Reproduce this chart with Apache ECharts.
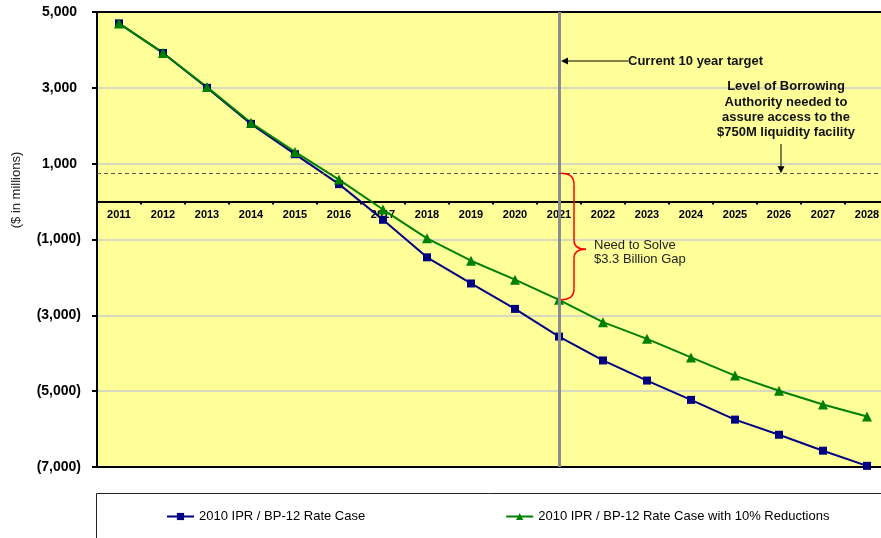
<!DOCTYPE html>
<html>
<head>
<meta charset="utf-8">
<script src="https://cdn.jsdelivr.net/npm/echarts@6/dist/echarts.min.js"></script>
<style>
  html, body { margin: 0; padding: 0; background: #fff; }
  #chart { width: 881px; height: 538px; }
</style>
</head>
<body>
<div id="chart"></div>
<script>
const years = ['2011', '2012', '2013', '2014', '2015', '2016', '2017', '2018', '2019',
  '2020', '2021', '2022', '2023', '2024', '2025', '2026', '2027', '2028'];
const rateCase = [4700, 3920, 3000, 2050, 1250, 460, -480, -1470, -2160,
  -2830, -3560, -4190, -4720, -5230, -5750, -6150, -6570, -6970];
const rateCaseReduced = [4700, 3920, 3020, 2080, 1310, 580, -210, -970, -1560,
  -2060, -2590, -3180, -3620, -4110, -4590, -4990, -5350, -5670];
const seriesNames = ['2010 IPR / BP-12 Rate Case', '2010 IPR / BP-12 Rate Case with 10% Reductions'];
const yMin = -7000;
const yMax = 5000;
const yStep = 2000;
const liquidityLevel = 750;
const targetYear = '2021';

const FONT = '"Liberation Sans", Arial, sans-serif';

// excel style: negatives in brackets, positives padded so digits line up
const fmtMillions = (v) => {
  const s = Math.abs(v).toString().replace(/\B(?=(\d{3})+(?!\d))/g, ',');
  return v < 0 ? '(' + s + ')' : s + ' ';
};

const chart = echarts.init(document.getElementById('chart'));

chart.setOption({
  animation: false,
  backgroundColor: '#fff',
  grid: {
    left: 97,
    top: 12,
    width: 792,
    height: 455,
    show: true,
    backgroundColor: '#FFFF99',
    borderColor: '#000',
    borderWidth: 2,
    outerBoundsMode: 'none',
  },
  legend: {
    data: seriesNames,
    left: 166,
    top: 510,
    padding: 0,
    itemWidth: 27,
    itemHeight: 9,
    itemGap: 140,
    textStyle: { fontSize: 13, color: '#000', fontFamily: FONT },
  },
  xAxis: {
    type: 'category',
    data: years,
    boundaryGap: true,
    position: 'bottom',
    axisLine: { onZero: false, lineStyle: { color: '#000', width: 2 } },
    axisTick: { show: true, length: 3, lineStyle: { color: '#000', width: 2 } },
    axisLabel: {
      interval: 0,
      margin: 8,
      color: '#000',
      fontSize: 11,
      fontWeight: 'bold',
      fontFamily: FONT,
    },
    splitLine: { show: false },
  },
  yAxis: {
    type: 'value',
    min: yMin,
    max: yMax,
    interval: yStep,
    axisLine: { show: true, lineStyle: { color: '#000', width: 2 } },
    axisTick: { show: true, length: 5, lineStyle: { color: '#000', width: 2 } },
    axisLabel: {
      formatter: fmtMillions,
      margin: 16,
      color: '#000',
      fontSize: 14,
      fontWeight: 'bold',
      fontFamily: FONT,
      showMinLabel: true,
      showMaxLabel: true,
    },
    splitLine: { show: true, showMinLine: false, showMaxLine: false, lineStyle: { color: '#cccccc', width: 1.5 } },
  },
  series: [
    {
      name: seriesNames[0],
      type: 'line',
      data: rateCase,
      symbol: 'rect',
      symbolSize: 8,
      lineStyle: { color: '#000080', width: 2 },
      itemStyle: { color: '#000080' },
      markLine: {
        silent: true,
        symbol: 'none',
        label: { show: false },
        data: [{ xAxis: targetYear, lineStyle: { color: '#8c8c8c', width: 3, type: 'solid' } }],
      },
    },
    {
      name: seriesNames[1],
      type: 'line',
      data: rateCaseReduced,
      symbol: 'triangle',
      symbolSize: 10,
      lineStyle: { color: '#008000', width: 2 },
      itemStyle: { color: '#008000' },
      markLine: {
        silent: true,
        symbol: 'none',
        label: { show: false },
        data: [{ yAxis: liquidityLevel, lineStyle: { color: '#555', width: 1, type: [4, 3] } }],
      },
    },
  ],
});

// move the category axis (line, ticks, labels) up to the zero line
const yZero = chart.convertToPixel({ yAxisIndex: 0 }, 0);
const yBottom = chart.convertToPixel({ yAxisIndex: 0 }, yMin);
chart.setOption({ xAxis: { offset: yZero - yBottom } });

// annotations, placed from the axis scales
const xT = chart.convertToPixel({ xAxisIndex: 0 }, targetYear);
const yLiq = chart.convertToPixel({ yAxisIndex: 0 }, liquidityLevel);
const yGap = chart.convertToPixel({ yAxisIndex: 0 }, rateCaseReduced[years.indexOf(targetYear)]);

const bx = xT + 2;
const bw = 13;
const bm = yLiq + 0.6 * (yGap - yLiq);
const red = { stroke: '#ff0000', lineWidth: 1.5, fill: null };

const arrowY = 61;
const arrowX = 781;

chart.setOption({
  graphic: [
    {
      type: 'text', x: 16, y: 190, rotation: Math.PI / 2, z: 100,
      style: { text: '($ in millions)', fontSize: 13, fontFamily: FONT, fill: '#222', align: 'center', verticalAlign: 'middle' },
    },
    {
      type: 'text', x: 628, y: arrowY, z: 100,
      style: { text: 'Current 10 year target', fontSize: 13, fontWeight: 'bold', fontFamily: FONT, fill: '#111', align: 'left', verticalAlign: 'middle' },
    },
    { type: 'line', z: 100, shape: { x1: 628, y1: arrowY, x2: xT + 8, y2: arrowY }, style: { stroke: '#000', lineWidth: 1 } },
    { type: 'polygon', z: 100, shape: { points: [[xT + 2, arrowY], [xT + 9, arrowY - 3.5], [xT + 9, arrowY + 3.5]] }, style: { fill: '#000' } },
    {
      type: 'text', x: 786, y: 79, z: 100,
      style: {
        text: 'Level of Borrowing\nAuthority needed to\nassure access to the\n$750M liquidity facility',
        fontSize: 13, fontWeight: 'bold', fontFamily: FONT, fill: '#111', align: 'center', verticalAlign: 'top', lineHeight: 15.3,
      },
    },
    { type: 'line', z: 100, shape: { x1: arrowX, y1: 144, x2: arrowX, y2: yLiq - 6 }, style: { stroke: '#000', lineWidth: 1 } },
    { type: 'polygon', z: 100, shape: { points: [[arrowX, yLiq], [arrowX - 3.5, yLiq - 7], [arrowX + 3.5, yLiq - 7]] }, style: { fill: '#000' } },
    // red brace between the liquidity level and the reduced case at the target year
    { type: 'bezierCurve', z: 100, shape: { x1: bx, y1: yLiq, cpx1: bx + bw, cpy1: yLiq, x2: bx + bw, y2: yLiq + 11 }, style: red },
    { type: 'line', z: 100, shape: { x1: bx + bw, y1: yLiq + 11, x2: bx + bw, y2: bm - 9 }, style: red },
    { type: 'bezierCurve', z: 100, shape: { x1: bx + bw, y1: bm - 9, cpx1: bx + bw, cpy1: bm, x2: bx + bw + 12, y2: bm }, style: red },
    { type: 'bezierCurve', z: 100, shape: { x1: bx + bw + 12, y1: bm, cpx1: bx + bw, cpy1: bm, x2: bx + bw, y2: bm + 9 }, style: red },
    { type: 'line', z: 100, shape: { x1: bx + bw, y1: bm + 9, x2: bx + bw, y2: yGap - 11 }, style: red },
    { type: 'bezierCurve', z: 100, shape: { x1: bx + bw, y1: yGap - 11, cpx1: bx + bw, cpy1: yGap, x2: bx, y2: yGap }, style: red },
    {
      type: 'text', x: 594, y: 238, z: 100,
      style: { text: 'Need to Solve\n$3.3 Billion Gap', fontSize: 13, fontFamily: FONT, fill: '#222', align: 'left', verticalAlign: 'top', lineHeight: 14 },
    },
    // legend frame
    { type: 'rect', z: 1, shape: { x: 96.5, y: 493.5, width: 820, height: 80 }, style: { fill: null, stroke: '#222', lineWidth: 1 } },
  ],
});
</script>
</body>
</html>
